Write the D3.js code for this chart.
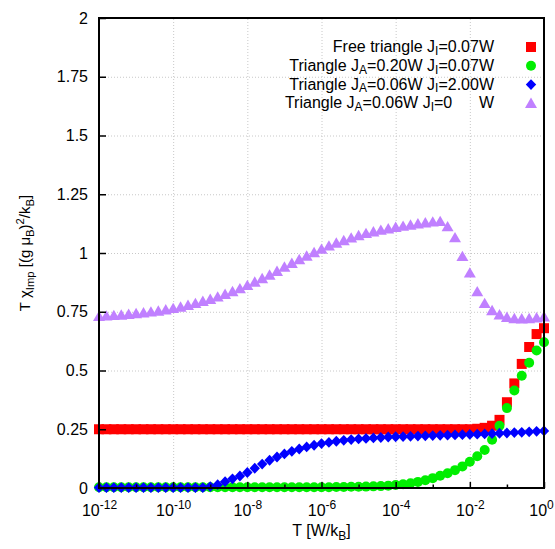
<!DOCTYPE html>
<html><head><meta charset="utf-8">
<script src="https://cdn.jsdelivr.net/npm/d3@7"></script>
<style>body{margin:0;background:#fff}svg{display:block}text{font-family:"Liberation Sans",Arial,sans-serif;white-space:pre}</style>
</head><body>
<script>
const logT = [-12.0,-11.8,-11.6,-11.4,-11.2,-11.0,-10.8,-10.6,-10.4,-10.2,-10.0,-9.8,-9.6,-9.4,-9.2,-9.0,-8.8,-8.6,-8.4,-8.2,-8.0,-7.8,-7.6,-7.4,-7.2,-7.0,-6.8,-6.6,-6.4,-6.2,-6.0,-5.8,-5.6,-5.4,-5.2,-5.0,-4.8,-4.6,-4.4,-4.2,-4.0,-3.8,-3.6,-3.4,-3.2,-3.0,-2.8,-2.6,-2.4,-2.2,-2.0,-1.8,-1.6,-1.4,-1.2,-1.0,-0.8,-0.6,-0.4,-0.2,0.0];
const freeTri = [0.25,0.25,0.25,0.25,0.25,0.25,0.25,0.25,0.25,0.25,0.25,0.25,0.25,0.25,0.25,0.25,0.25,0.25,0.25,0.25,0.25,0.25,0.25,0.25,0.25,0.25,0.25,0.25,0.25,0.25,0.25,0.25,0.25,0.25,0.25,0.25,0.25,0.25,0.25,0.25,0.25,0.25,0.25,0.25,0.25,0.25,0.25,0.25,0.25,0.25,0.25,0.252,0.256,0.265,0.29,0.365,0.445,0.528,0.600,0.655,0.680];
const triA020 = [0.003,0.003,0.003,0.003,0.003,0.003,0.003,0.003,0.003,0.003,0.003,0.003,0.003,0.003,0.003,0.003,0.003,0.003,0.003,0.003,0.003,0.003,0.003,0.003,0.003,0.003,0.003,0.003,0.003,0.003,0.003,0.003,0.004,0.004,0.005,0.005,0.006,0.007,0.008,0.010,0.013,0.016,0.020,0.026,0.033,0.042,0.052,0.063,0.076,0.092,0.112,0.135,0.162,0.205,0.265,0.340,0.415,0.478,0.533,0.585,0.620];
const triJI200 = [0.002,0.002,0.002,0.002,0.002,0.002,0.002,0.002,0.002,0.002,0.002,0.002,0.002,0.002,0.002,0.006,0.014,0.027,0.039,0.051,0.066,0.084,0.102,0.118,0.132,0.145,0.156,0.166,0.175,0.182,0.189,0.194,0.199,0.203,0.206,0.209,0.211,0.213,0.215,0.217,0.218,0.219,0.220,0.221,0.222,0.223,0.224,0.225,0.226,0.227,0.228,0.229,0.230,0.231,0.233,0.234,0.236,0.237,0.239,0.241,0.243];
const triJI0 = [0.730,0.732,0.734,0.736,0.739,0.742,0.745,0.749,0.753,0.758,0.764,0.770,0.777,0.785,0.794,0.803,0.813,0.824,0.836,0.848,0.862,0.876,0.891,0.906,0.922,0.940,0.956,0.972,0.987,1.002,1.016,1.030,1.042,1.053,1.064,1.074,1.083,1.090,1.097,1.103,1.109,1.114,1.119,1.124,1.128,1.132,1.134,1.112,1.065,0.985,0.915,0.835,0.785,0.755,0.737,0.726,0.721,0.720,0.721,0.724,0.728];
const yTicks = [0,0.25,0.5,0.75,1,1.25,1.5,1.75,2];
const xMajorExp = [-12,-10,-8,-6,-4,-2,0];
const xMinorExp = [-11,-9,-7,-5,-3,-1];
const legendLabels = [
  [{t:"Free triangle J"},{t:"I",sub:1},{t:"=0.07W"}],
  [{t:"Triangle J"},{t:"A",sub:1},{t:"=0.20W J"},{t:"I",sub:1},{t:"=0.07W"}],
  [{t:"Triangle J"},{t:"A",sub:1},{t:"=0.06W J"},{t:"I",sub:1},{t:"=2.00W"}],
  [{t:"Triangle J"},{t:"A",sub:1},{t:"=0.06W J"},{t:"I",sub:1},{t:"=0      W"}]
];

const W=555,H=549, L=99,R=544,T=18,B=488;
const svg=d3.select("body").append("svg").attr("width",W).attr("height",H);
const x=d3.scaleLog().domain([1e-12,1]).range([L,R]);
const y=d3.scaleLinear().domain([0,2]).range([B,T]);
const FS=16;

function rich(sel, segs, fs, subShift){
  let cur=0;
  const sh = subShift===undefined ? 0.25 : subShift;
  segs.forEach(s=>{
    const tgt = s.sub ? fs*sh : (s.sup ? -fs*0.42 : 0);
    const ts=sel.append("tspan").attr("dy",tgt-cur).text(s.t);
    if(s.sub||s.sup) ts.attr("font-size",fs*0.75);
    cur=tgt;
  });
}

// grid
const gx=svg.append("g").attr("transform",`translate(0,${B})`)
  .call(d3.axisBottom(x).tickValues(xMajorExp.map(e=>Math.pow(10,e))).tickSize(-(B-T)).tickFormat(""));
gx.select(".domain").remove();
gx.selectAll("line").attr("stroke","#c8c8c8").attr("stroke-dasharray","1,2");
const gy=svg.append("g").attr("transform",`translate(${L},0)`)
  .call(d3.axisLeft(y).tickValues(yTicks).tickSize(-(R-L)).tickFormat(""));
gy.select(".domain").remove();
gy.selectAll("line").attr("stroke","#c8c8c8").attr("stroke-dasharray","1,2");

// data
const series=[
  {v:freeTri,color:"#ff0000",sym:"square"},
  {v:triA020,color:"#00ee00",sym:"circle"},
  {v:triJI200,color:"#0000ff",sym:"diamond"},
  {v:triJI0,color:"#c080ff",sym:"triangle"}
];
function mark(g,sym,color){
  if(sym==="square") g.append("rect").attr("x",-5).attr("y",-5).attr("width",10).attr("height",10).attr("fill",color);
  else if(sym==="circle") g.append("circle").attr("r",5).attr("fill",color);
  else if(sym==="diamond") g.append("path").attr("d","M0,-5.4L5.2,0L0,5.4L-5.2,0Z").attr("fill",color);
  else g.append("path").attr("d","M0,-5.8L6,4.6L-6,4.6Z").attr("fill",color);
}
series.forEach(s=>{
  const g=svg.append("g");
  s.v.forEach((v,i)=>{
    const m=g.append("g").attr("transform",`translate(${x(Math.pow(10,logT[i]))},${y(v)})`);
    mark(m,s.sym,s.color);
  });
});

// axes ticks
const ay=svg.append("g").attr("transform",`translate(${L},0)`)
  .call(d3.axisLeft(y).tickValues(yTicks).tickSize(-7).tickPadding(11).tickFormat(d=>String(d)));
ay.select(".domain").remove();
ay.selectAll("line").attr("stroke","#000").attr("stroke-width",1.5);
ay.selectAll("text").attr("font-size",16).attr("fill","#000").attr("font-family","Liberation Sans, Arial, sans-serif");

const ax=svg.append("g").attr("transform",`translate(0,${B})`)
  .call(d3.axisBottom(x).tickValues(xMajorExp.map(e=>Math.pow(10,e))).tickSize(-6).tickFormat(""));
ax.select(".domain").remove();
ax.selectAll("line").attr("stroke","#000").attr("stroke-width",1.5);
const axm=svg.append("g").attr("transform",`translate(0,${B})`)
  .call(d3.axisBottom(x).tickValues(xMinorExp.map(e=>Math.pow(10,e))).tickSize(-3.5).tickFormat(""));
axm.select(".domain").remove();
axm.selectAll("line").attr("stroke","#000").attr("stroke-width",1.5);
ax.selectAll(".tick").each(function(d,i){
  const last = i===xMajorExp.length-1;
  const t=d3.select(this).append("text").attr("x",last?-3:0).attr("y",28).attr("fill","#000").attr("font-size",16).attr("text-anchor","middle");
  rich(t,[{t:"10"},{t:String(xMajorExp[i]),sup:1}],16);
});

// border
svg.append("rect").attr("x",L).attr("y",T).attr("width",R-L).attr("height",B-T)
  .attr("fill","none").attr("stroke","#000").attr("stroke-width",2);

// axis labels
const xl=svg.append("text").attr("x",(L+R)/2).attr("y",536).attr("text-anchor","middle").attr("font-size",FS);
rich(xl,[{t:"T [W/k"},{t:"B",sub:1},{t:"]"}],FS);
const yl=svg.append("text").attr("transform",`translate(30,${(T+B)/2}) rotate(-90)`).attr("text-anchor","middle").attr("font-size",15);
rich(yl,[{t:"T "},{t:"χ"},{t:"Imp",sub:1},{t:" [(g μ"},{t:"B",sub:1},{t:")"},{t:"2",sup:1},{t:"/k"},{t:"B",sub:1},{t:"]"}],15);

// legend
legendLabels.forEach((segs,i)=>{
  const yy=47+i*18.8;
  const t=svg.append("text").attr("x",494).attr("y",yy+5).attr("text-anchor","end").attr("font-size",FS);
  rich(t,segs,FS,0.18);
  const m=svg.append("g").attr("transform",`translate(531,${yy})`);
  mark(m,series[i].sym,series[i].color);
});
</script>
</body></html>
